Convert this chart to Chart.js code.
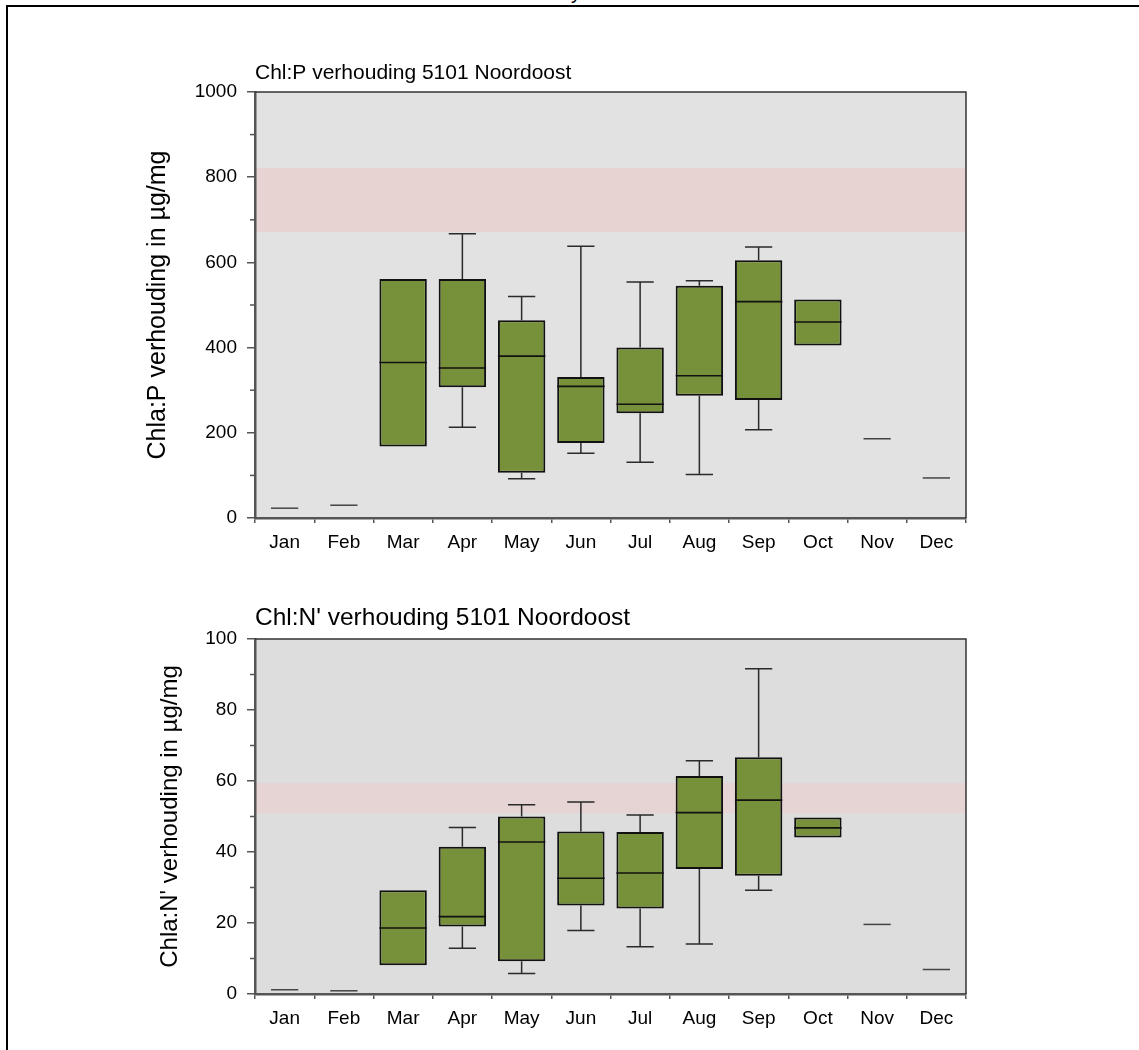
<!DOCTYPE html>
<html>
<head>
<meta charset="utf-8">
<script src="https://cdn.jsdelivr.net/npm/chart.js@4"></script>
<style>
  body { margin: 0; background: #fff; width: 1139px; height: 1050px; overflow: hidden; position: relative; font-family: "Liberation Sans", Arial, sans-serif; }
  .frame { position: absolute; left: 6px; top: 5px; width: 1200px; height: 1100px; border-left: 2px solid #000; border-top: 2px solid #000; }
  .cut { position: absolute; left: 571px; top: -19px; font-size: 20px; color: #000; }
  .box { position: absolute; left: 0; width: 1000px; }
</style>
</head>
<body>
<div class="frame"></div>
<div class="cut">y</div>
<div class="box" style="top:40px;height:518px"><canvas id="chartP"></canvas></div>
<div class="box" style="top:580px;height:454px"><canvas id="chartN"></canvas></div>
<script>
const months = ['Jan', 'Feb', 'Mar', 'Apr', 'May', 'Jun', 'Jul', 'Aug', 'Sep', 'Oct', 'Nov', 'Dec'];

// Chl:P per maand (µg/mg)
const pMin = [23, 30, 168, 213, 92, 152, 131, 102, 207, 405, 186, 94];
const pQ1  = [23, 30, 168, 307, 106, 176, 246, 287, 277, 405, 186, 94];
const pMed = [23, 30, 365, 352, 380, 309, 267, 334, 508, 460, 186, 94];
const pQ3  = [23, 30, 561, 561, 464, 331, 400, 545, 605, 513, 186, 94];
const pMax = [23, 30, 561, 667, 520, 638, 554, 557, 636, 513, 186, 94];
const pBand = [671, 822];
const pTicks = [0, 200, 400, 600, 800, 1000];

// Chl:N' per maand (µg/mg)
const nMin = [1.2, 0.9, 8.1, 12.9, 5.8, 17.9, 13.3, 14.1, 29.2, 44.1, 19.6, 6.9];
const nQ1  = [1.2, 0.9, 8.1, 19.0, 9.2, 24.9, 24.1, 35.2, 33.3, 44.1, 19.6, 6.9];
const nMed = [1.2, 0.9, 18.6, 21.8, 42.8, 32.6, 34.1, 51.1, 54.6, 46.8, 19.6, 6.9];
const nQ3  = [1.2, 0.9, 29.2, 41.5, 50.0, 45.8, 45.6, 61.4, 66.7, 49.7, 19.6, 6.9];
const nMax = [1.2, 0.9, 29.2, 46.9, 53.3, 54.1, 50.4, 65.7, 91.6, 49.7, 19.6, 6.9];
const nBand = [51, 59.4];
const nTicks = [0, 20, 40, 60, 80, 100];

const FONT = '"Liberation Sans", Arial, sans-serif';
const GREEN = '#77913b';

// achtergrond, band, snorharen en medianen
const boxPlugin = {
  id: 'boxPlugin',
  beforeDraw(chart, args, opts) {
    const { ctx, chartArea: a } = chart;
    const y = chart.scales.y;
    ctx.save();
    ctx.fillStyle = opts.bg;
    ctx.fillRect(a.left, a.top, a.right - a.left, a.bottom - a.top);
    ctx.fillStyle = opts.bandColor;
    const yHi = y.getPixelForValue(opts.band[1]);
    const yLo = y.getPixelForValue(opts.band[0]);
    ctx.fillRect(a.left, yHi, a.right - a.left, yLo - yHi);
    ctx.restore();
  },
  beforeDatasetsDraw(chart, args, opts) {
    const { ctx } = chart;
    const x = chart.scales.x, y = chart.scales.y;
    const cat = x.getPixelForValue(1) - x.getPixelForValue(0);
    const cap = cat * 0.23;
    ctx.save();
    ctx.strokeStyle = '#2a2a2a';
    ctx.lineWidth = 1.5;
    opts.stats.med.forEach((m, i) => {
      const cx = x.getPixelForValue(i);
      const q1 = opts.stats.q1[i], q3 = opts.stats.q3[i];
      const lo = opts.stats.min[i], hi = opts.stats.max[i];
      ctx.beginPath();
      if (q1 === q3) {
        ctx.strokeStyle = '#444';
        ctx.moveTo(cx - cap, y.getPixelForValue(m));
        ctx.lineTo(cx + cap, y.getPixelForValue(m));
        ctx.stroke();
        ctx.strokeStyle = '#2a2a2a';
        return;
      }
      if (hi > q3) {
        ctx.moveTo(cx, y.getPixelForValue(q3));
        ctx.lineTo(cx, y.getPixelForValue(hi));
        ctx.moveTo(cx - cap, y.getPixelForValue(hi));
        ctx.lineTo(cx + cap, y.getPixelForValue(hi));
      }
      if (lo < q1) {
        ctx.moveTo(cx, y.getPixelForValue(q1));
        ctx.lineTo(cx, y.getPixelForValue(lo));
        ctx.moveTo(cx - cap, y.getPixelForValue(lo));
        ctx.lineTo(cx + cap, y.getPixelForValue(lo));
      }
      ctx.stroke();
    });
    ctx.restore();
  },
  afterDatasetsDraw(chart, args, opts) {
    const { ctx, chartArea: a } = chart;
    const x = chart.scales.x, y = chart.scales.y;
    const cat = x.getPixelForValue(1) - x.getPixelForValue(0);
    const half = cat * 0.4;
    ctx.save();
    ctx.strokeStyle = '#111';
    ctx.lineWidth = 1.6;
    opts.stats.med.forEach((m, i) => {
      if (opts.stats.q1[i] === opts.stats.q3[i]) return;
      const cx = x.getPixelForValue(i);
      const py = y.getPixelForValue(m);
      ctx.beginPath();
      ctx.moveTo(cx - half, py);
      ctx.lineTo(cx + half, py);
      ctx.stroke();
    });
    // kleine streepjes tussen de labels
    ctx.strokeStyle = '#555';
    ctx.lineWidth = 1.5;
    const step = opts.ticks[1] - opts.ticks[0];
    opts.ticks.slice(0, -1).forEach(t => {
      const py = y.getPixelForValue(t + step / 2);
      ctx.beginPath();
      ctx.moveTo(a.left - 5, py);
      ctx.lineTo(a.left, py);
      ctx.stroke();
    });
    // rand boven en rechts
    ctx.strokeStyle = '#333';
    ctx.lineWidth = 1.5;
    ctx.beginPath();
    ctx.moveTo(a.left, a.top);
    ctx.lineTo(a.right, a.top);
    ctx.lineTo(a.right, a.bottom);
    ctx.stroke();
    ctx.restore();
  }
};

function makeChart(id, cfg) {
  const stats = { min: cfg.min, q1: cfg.q1, med: cfg.med, q3: cfg.q3, max: cfg.max };
  const boxes = months.map((m, i) => cfg.q1[i] === cfg.q3[i] ? null : [cfg.q1[i], cfg.q3[i]]);
  const ctx = document.getElementById(id).getContext('2d');
  return new Chart(ctx, {
    type: 'bar',
    data: {
      labels: months,
      datasets: [{
        data: boxes,
        backgroundColor: GREEN,
        borderColor: '#111',
        borderWidth: 2,
        borderSkipped: false,
        barPercentage: 0.8,
        categoryPercentage: 1
      }]
    },
    plugins: [boxPlugin],
    options: {
      responsive: true,
      maintainAspectRatio: false,
      animation: false,
      layout: { padding: { top: cfg.padTop, left: cfg.padLeft, right: 34, bottom: 0 } },
      plugins: {
        legend: { display: false },
        tooltip: { enabled: false },
        title: {
          display: true,
          text: cfg.title,
          align: 'start',
          fullSize: false,
          color: '#000',
          font: { family: FONT, size: cfg.titleSize, weight: 'normal' },
          padding: { top: 0, bottom: 6 }
        },
        boxPlugin: { stats: stats, band: cfg.band, ticks: cfg.ticks, bg: cfg.bg, bandColor: cfg.bandColor }
      },
      scales: {
        x: {
          offset: true,
          grid: { offset: true, drawOnChartArea: false, tickLength: 5, color: '#555', lineWidth: 1.5 },
          border: { color: '#555', width: 2.5 },
          ticks: { color: '#000', padding: 8, font: { family: FONT, size: 19 }, maxRotation: 0 },
          afterFit(scale) { scale.height = 40; }
        },
        y: {
          min: cfg.ticks[0],
          max: cfg.ticks[cfg.ticks.length - 1],
          afterBuildTicks(scale) { scale.ticks = cfg.ticks.map(v => ({ value: v })); },
          grid: { drawOnChartArea: false, tickLength: 8, color: '#555', lineWidth: 1.5 },
          border: { color: '#555', width: 2.5 },
          ticks: {
            color: '#000',
            padding: 10,
            font: { family: FONT, size: 19 },
            callback: v => String(v)
          },
          title: {
            display: true,
            text: cfg.yTitle,
            color: '#000',
            font: { family: FONT, size: cfg.yTitleSize },
            padding: { top: cfg.yTitlePad, bottom: 0 }
          },
          afterFit(scale) { scale.width = cfg.axisWidth; }
        }
      }
    }
  });
}

makeChart('chartP', {
  title: 'Chl:P verhouding 5101 Noordoost',
  yTitle: 'Chla:P verhouding in µg/mg',
  min: pMin, q1: pQ1, med: pMed, q3: pQ3, max: pMax,
  band: pBand, ticks: pTicks,
  bg: '#e2e2e2', bandColor: '#e8d3d3',
  titleSize: 21, yTitleSize: 25, yTitlePad: 3,
  padTop: 20.8, padLeft: 140, axisWidth: 115
});

makeChart('chartN', {
  title: "Chl:N' verhouding 5101 Noordoost",
  yTitle: "Chla:N' verhouding in µg/mg",
  min: nMin, q1: nQ1, med: nMed, q3: nQ3, max: nMax,
  band: nBand, ticks: nTicks,
  bg: '#dddddd', bandColor: '#e6d3d3',
  titleSize: 24.5, yTitleSize: 24, yTitlePad: 7,
  padTop: 23.6, padLeft: 149, axisWidth: 106
});
</script>
</body>
</html>
